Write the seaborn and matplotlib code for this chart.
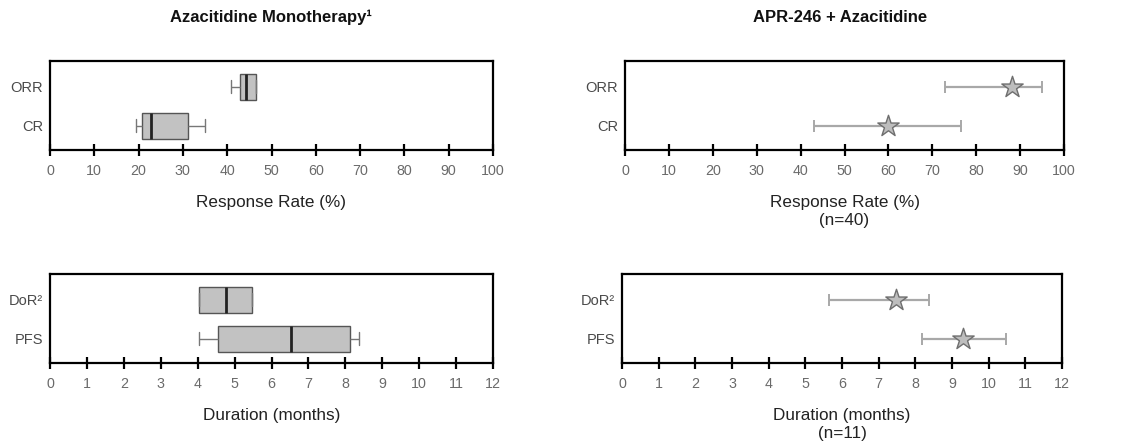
import numpy as np
import pandas as pd
import matplotlib
matplotlib.use("Agg")
import matplotlib.pyplot as plt
import seaborn as sns

sns.set_style("white")
plt.rcParams['font.family'] = ['Liberation Sans', 'DejaVu Sans']

# ---- data ----
resp_categories = ["ORR", "CR"]
dur_categories = ["DoR²", "PFS"]

# Azacitidine monotherapy: five-number summaries (whisker low, Q1, median, Q3, whisker high)
aza_resp_low = [40.8, 19.4]
aza_resp_q1 = [43.0, 20.7]
aza_resp_med = [44.3, 22.9]
aza_resp_q3 = [46.6, 31.2]
aza_resp_high = [46.6, 35.1]

aza_dur_low = [4.04, 4.03]
aza_dur_q1 = [4.04, 4.54]
aza_dur_med = [4.76, 6.52]
aza_dur_q3 = [5.46, 8.12]
aza_dur_high = [5.46, 8.38]

# APR-246 + Azacitidine: estimate with CI
apr_resp_est = [88.2, 60.0]
apr_resp_lo = [72.9, 43.0]
apr_resp_hi = [95.1, 76.5]

apr_dur_est = [7.47, 9.29]
apr_dur_lo = [5.65, 8.17]
apr_dur_hi = [8.38, 10.48]

resp_ticks = list(range(0, 101, 10))
dur_ticks = list(range(0, 13, 1))

# ---- figure ----
W, H = 1125, 448
fig = plt.figure(figsize=(W / 100, H / 100), dpi=100)

def add_ax(l, t, r, b):
    return fig.add_axes([l / W, 1 - b / H, (r - l) / W, (b - t) / H])

ax_tl = add_ax(50, 61, 493, 150)
ax_tr = add_ax(625, 61, 1064, 150)
ax_bl = add_ax(50, 274, 493, 363)
ax_br = add_ax(622, 274, 1062, 363)

tick_col = "#6a6a6a"
lab_col = "#4a4a4a"

def style(ax, ticks, xmax, xlabel):
    ax.set_xlim(0, xmax)
    ax.set_ylim(1.62, -0.66)
    ax.set_xticks(ticks)
    ax.set_xticklabels([str(t) for t in ticks], color=tick_col, fontsize=10.3)
    for s in ax.spines.values():
        s.set_visible(True)
        s.set_color("black")
        s.set_linewidth(1.6)
    ax.tick_params(axis="x", direction="inout", length=8, width=1.6, color="black", pad=6, bottom=True)
    ax.tick_params(axis="y", length=0, pad=5, labelsize=10.5, labelcolor=lab_col)
    ax.set_xlabel(xlabel, fontsize=12.3, color="#222222", labelpad=12, linespacing=1.3)
    ax.set_ylabel("")

def box_frame(cats, low, q1, med, q3, high):
    rows = []
    for i, c in enumerate(cats):
        for v in (low[i], q1[i], med[i], q3[i], high[i]):
            rows.append({"cat": c, "val": v})
    return pd.DataFrame(rows)

box_kw = dict(orient="h", whis=np.inf, width=0.66, color="#c2c2c2", linecolor="#555555",
              linewidth=1.0, medianprops=dict(color="#222222", linewidth=2.0),
              whiskerprops=dict(color="#777777", linewidth=1.0),
              capprops=dict(color="#777777", linewidth=1.0))

df_tl = box_frame(resp_categories, aza_resp_low, aza_resp_q1, aza_resp_med, aza_resp_q3, aza_resp_high)
sns.boxplot(data=df_tl, x="val", y="cat", order=resp_categories, ax=ax_tl, **box_kw)
style(ax_tl, resp_ticks, 100, "Response Rate (%)")

df_bl = box_frame(dur_categories, aza_dur_low, aza_dur_q1, aza_dur_med, aza_dur_q3, aza_dur_high)
sns.boxplot(data=df_bl, x="val", y="cat", order=dur_categories, ax=ax_bl, **box_kw)
style(ax_bl, dur_ticks, 12, "Duration (months)")

def star_plot(ax, cats, est, lo, hi):
    df = pd.DataFrame({"cat": cats, "est": est, "lo": lo, "hi": hi})
    ypos = np.arange(len(cats))
    ax.errorbar(df["est"], ypos, xerr=[df["est"] - df["lo"], df["hi"] - df["est"]],
                fmt="none", ecolor="#a8a8a8", elinewidth=1.6, capsize=4, capthick=1.4, zorder=2)
    sns.scatterplot(data=df, x="est", y="cat", marker="*", s=260, color="#bdbdbd",
                    edgecolor="#6e6e6e", linewidth=1.0, ax=ax, zorder=3, legend=False)

star_plot(ax_tr, resp_categories, apr_resp_est, apr_resp_lo, apr_resp_hi)
style(ax_tr, resp_ticks, 100, "Response Rate (%)\n(n=40)")

star_plot(ax_br, dur_categories, apr_dur_est, apr_dur_lo, apr_dur_hi)
style(ax_br, dur_ticks, 12, "Duration (months)\n(n=11)")

fig.text(271 / W, 1 - 17 / H, "Azacitidine Monotherapy¹", ha="center", va="center",
         fontsize=12, fontweight="bold", color="#111111")
fig.text(840 / W, 1 - 17 / H, "APR-246 + Azacitidine", ha="center", va="center",
         fontsize=12, fontweight="bold", color="#111111")

fig.savefig("out.png", dpi=100)
